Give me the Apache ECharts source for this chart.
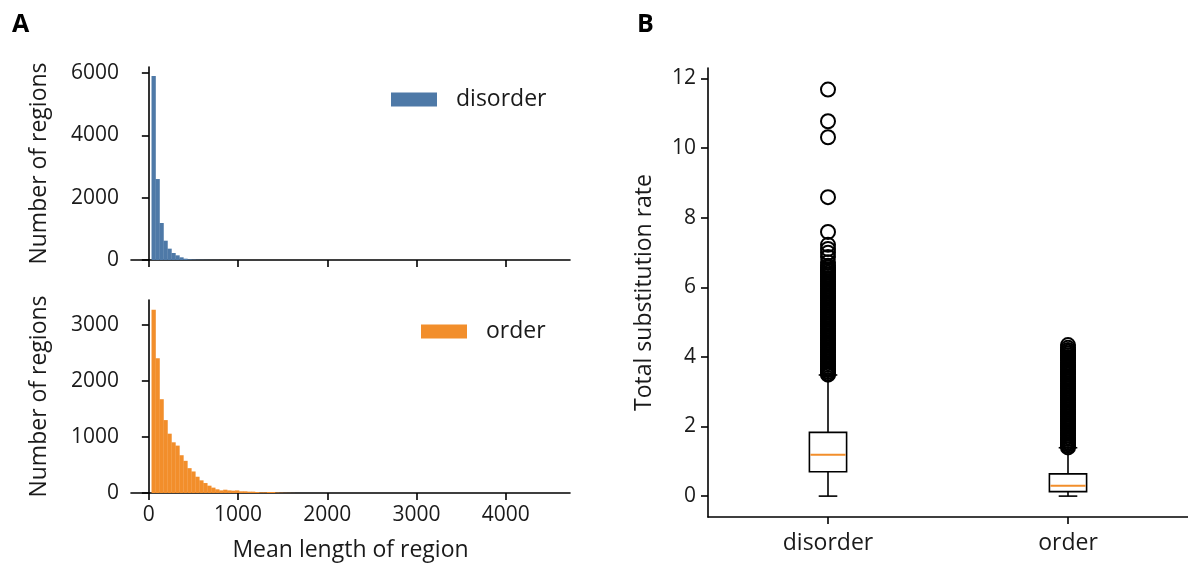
<!DOCTYPE html>
<html>
<head>
<meta charset="utf-8">
<script src="https://cdn.jsdelivr.net/npm/echarts@6/dist/echarts.min.js"></script>
<style>
  html, body { margin: 0; padding: 0; background: #ffffff; }
  #chart { width: 1188px; height: 567px; }
</style>
</head>
<body>
<div id="chart"></div>
<script>
// ---------- data ----------
// Histogram bins (100 equal-width bins starting at binStart)
const binStart = 30;
const binWidth = 44.6;
const disorderCounts = [5904, 2599, 1187, 620, 364, 225, 150, 86, 43, 21, 14, 9, 6, 4, 3, 2, 2, 1, 1, 1];
const orderCounts = [3275, 2410, 1676, 1303, 1060, 906, 847, 675, 575, 444, 385, 291, 226, 178, 131, 96, 66, 47, 59, 47, 42, 47, 30, 30, 24, 24, 18, 12, 12, 18, 18, 8, 5, 3, 2, 1];
const lengthTicks = [0, 1000, 2000, 3000, 4000];
const disorderCountTicks = [0, 2000, 4000, 6000];
const orderCountTicks = [0, 1000, 2000, 3000];

// Box plot: [min, Q1, median, Q3, max] per group
const groups = ['disorder', 'order'];
const disorderBox = [0, 0.70, 1.19, 1.83, 3.48];
const orderBox = [0, 0.13, 0.30, 0.64, 1.39];
const rateTicks = [0, 2, 4, 6, 8, 10, 12];
const disorderOutliers = [11.68, 10.77, 10.31, 8.59, 7.59, 7.22, 7.10, 6.99, 6.87, 6.72,
  6.62, 6.57, 6.52, 6.47, 6.42, 6.37, 6.32, 6.27, 6.22, 6.17, 6.12, 6.07, 6.02, 5.97, 5.92, 5.87,
  5.82, 5.77, 5.72, 5.67, 5.62, 5.57, 5.52, 5.47, 5.42, 5.37, 5.32, 5.27, 5.22, 5.17, 5.12, 5.07,
  5.02, 4.97, 4.92, 4.87, 4.82, 4.77, 4.72, 4.67, 4.62, 4.57, 4.52, 4.47, 4.42, 4.37, 4.32, 4.27,
  4.22, 4.17, 4.12, 4.07, 4.02, 3.97, 3.92, 3.87, 3.82, 3.77, 3.72, 3.67, 3.62, 3.57, 3.52, 3.49];
const orderOutliers = [4.34, 4.26, 4.20, 4.15, 4.10, 4.05, 4.00, 3.95, 3.90, 3.84, 3.79, 3.74,
  3.69, 3.64, 3.59, 3.54, 3.49, 3.44, 3.39, 3.34, 3.29, 3.24, 3.19, 3.14, 3.09, 3.04, 2.99, 2.94,
  2.89, 2.84, 2.79, 2.74, 2.69, 2.64, 2.59, 2.54, 2.49, 2.44, 2.39, 2.34, 2.29, 2.24, 2.19, 2.14,
  2.09, 2.04, 1.99, 1.94, 1.89, 1.84, 1.79, 1.74, 1.69, 1.64, 1.59, 1.54, 1.49, 1.44, 1.40];

// ---------- styling ----------
const FONT = "'Open Sans', 'Noto Sans', sans-serif";
const TXT = '#1a1a1a';
const BLUE = '#4e79a7';
const ORANGE = '#f28e2b';
const AX = { lineStyle: { color: '#000', width: 1.6 } };
const plain = v => String(v);

function binRows(counts) {
  return counts.map((c, i) => [binStart + i * binWidth, binStart + (i + 1) * binWidth, c]);
}
function histRender(params, api) {
  const p0 = api.coord([api.value(0), api.value(2)]);
  const p1 = api.coord([api.value(1), 0]);
  return {
    type: 'rect',
    shape: { x: p0[0], y: p0[1], width: p1[0] - p0[0] + 0.3, height: p1[1] - p0[1] },
    style: { fill: api.visual('color') }
  };
}
function boxRender(params, api) {
  const cat = api.value(0);
  const band = api.size([1, 0])[0];
  const bw = band * 0.155, cw = bw / 2;
  const x = api.coord([cat, 0])[0];
  const y = i => api.coord([cat, api.value(i)])[1];
  const ymin = y(1), q1 = y(2), med = y(3), q3 = y(4), ymax = y(5);
  const ls = { stroke: '#000', lineWidth: 1.6, fill: null };
  return {
    type: 'group',
    children: [
      { type: 'line', shape: { x1: x, y1: ymin, x2: x, y2: q1 }, style: ls },
      { type: 'line', shape: { x1: x, y1: q3, x2: x, y2: ymax }, style: ls },
      { type: 'line', shape: { x1: x - cw / 2, y1: ymin, x2: x + cw / 2, y2: ymin }, style: ls },
      { type: 'line', shape: { x1: x - cw / 2, y1: ymax, x2: x + cw / 2, y2: ymax }, style: ls },
      { type: 'rect', shape: { x: x - bw / 2, y: q3, width: bw, height: q1 - q3 }, style: { stroke: '#000', lineWidth: 1.6, fill: '#fff' } },
      { type: 'line', shape: { x1: x - bw / 2 + 1, y1: med, x2: x + bw / 2 - 1, y2: med }, style: { stroke: ORANGE, lineWidth: 2 } }
    ]
  };
}

const tickLabel = { color: TXT, fontFamily: FONT, fontSize: 21, formatter: plain };
const nameStyle = { color: TXT, fontFamily: FONT, fontSize: 23 };
const tickStyle = { show: true, length: 7, lineStyle: { color: '#000', width: 1.6 } };

const option = {
  backgroundColor: '#ffffff',
  animation: false,
  title: [
    { text: 'A', left: 7, top: 7, textStyle: { fontFamily: FONT, fontWeight: 'bold', fontSize: 25, color: '#000' } },
    { text: 'B', left: 632, top: 7, textStyle: { fontFamily: FONT, fontWeight: 'bold', fontSize: 25, color: '#000' } }
  ],
  legend: [
    { data: ['disorder'], left: 391, top: 88, padding: 0, icon: 'rect', itemWidth: 46, itemHeight: 14,
      textStyle: { color: TXT, fontFamily: FONT, fontSize: 23, padding: [0, 0, 0, 14] } },
    { data: ['order'], left: 421, top: 320, padding: 0, icon: 'rect', itemWidth: 46, itemHeight: 14,
      textStyle: { color: TXT, fontFamily: FONT, fontSize: 23, padding: [0, 0, 0, 14] } }
  ],
  grid: [
    { left: 131, width: 439, top: 67, height: 193 },
    { left: 131, width: 439, top: 300, height: 193 },
    { left: 708, width: 480, top: 68, height: 449 }
  ],
  xAxis: [
    { gridIndex: 0, type: 'value', min: -200, max: 4720, axisLine: AX,
      axisTick: Object.assign({ customValues: lengthTicks }, tickStyle),
      axisLabel: { show: false }, splitLine: { show: false } },
    { gridIndex: 1, type: 'value', min: -200, max: 4720, axisLine: AX,
      axisTick: Object.assign({ customValues: lengthTicks }, tickStyle),
      axisLabel: Object.assign({ margin: 12, customValues: lengthTicks }, tickLabel),
      splitLine: { show: false },
      name: 'Mean length of region', nameLocation: 'middle', nameGap: 46, nameTextStyle: nameStyle },
    { gridIndex: 2, type: 'category', data: groups, boundaryGap: true,
      axisLine: { onZero: false, lineStyle: { color: '#000', width: 1.6 } },
      axisTick: Object.assign({ alignWithLabel: true }, tickStyle),
      axisLabel: { margin: 15, fontSize: 23, color: TXT, fontFamily: FONT },
      splitLine: { show: false } }
  ],
  yAxis: [
    { gridIndex: 0, type: 'value', min: 0, max: 6195, axisLine: Object.assign({ show: true }, AX),
      axisTick: Object.assign({ customValues: disorderCountTicks }, tickStyle),
      axisLabel: Object.assign({ margin: 12, customValues: disorderCountTicks }, tickLabel),
      splitLine: { show: false },
      name: 'Number of regions', nameLocation: 'middle', nameGap: 80, nameRotate: 90, nameTextStyle: nameStyle },
    { gridIndex: 1, type: 'value', min: 0, max: 3449, axisLine: Object.assign({ show: true }, AX),
      axisTick: Object.assign({ customValues: orderCountTicks }, tickStyle),
      axisLabel: Object.assign({ margin: 12, customValues: orderCountTicks }, tickLabel),
      splitLine: { show: false },
      name: 'Number of regions', nameLocation: 'middle', nameGap: 80, nameRotate: 90, nameTextStyle: nameStyle },
    { gridIndex: 2, type: 'value', min: -0.6, max: 12.3, axisLine: Object.assign({ show: true }, AX),
      axisTick: Object.assign({ customValues: rateTicks }, tickStyle),
      axisLabel: Object.assign({ margin: 12, customValues: rateTicks }, tickLabel),
      splitLine: { show: false },
      name: 'Total substitution rate', nameLocation: 'middle', nameGap: 52, nameRotate: 90, nameTextStyle: nameStyle }
  ],
  series: [
    { name: 'disorder', type: 'custom', xAxisIndex: 0, yAxisIndex: 0, itemStyle: { color: BLUE },
      renderItem: histRender, data: binRows(disorderCounts), encode: { x: [0, 1], y: 2 } },
    { name: 'order', type: 'custom', xAxisIndex: 1, yAxisIndex: 1, itemStyle: { color: ORANGE },
      renderItem: histRender, data: binRows(orderCounts), encode: { x: [0, 1], y: 2 } },
    { name: 'box', type: 'custom', xAxisIndex: 2, yAxisIndex: 2, z: 3,
      renderItem: boxRender,
      data: [[0].concat(disorderBox), [1].concat(orderBox)],
      encode: { x: 0, y: [1, 2, 3, 4, 5] } },
    { name: 'outliers', type: 'scatter', xAxisIndex: 2, yAxisIndex: 2, z: 4,
      symbol: 'circle', symbolSize: 14,
      itemStyle: { color: 'rgba(0,0,0,0)', borderColor: '#000', borderWidth: 2, opacity: 1 },
      emphasis: { disabled: true },
      data: disorderOutliers.map(v => [0, v]).concat(orderOutliers.map(v => [1, v])) }
  ]
};

const chart = echarts.init(document.getElementById('chart'), null, { renderer: 'canvas' });
chart.setOption(option);
</script>
</body>
</html>
